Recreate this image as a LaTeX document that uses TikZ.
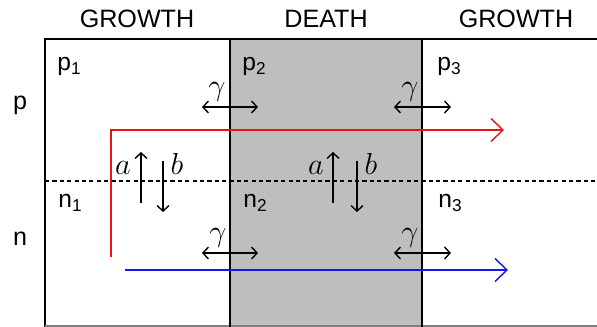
\documentclass[tikz,border=0pt]{standalone}
\usepackage{fontspec}
\setmainfont{Liberation Sans}
\usepackage{tikz}
\usetikzlibrary{arrows.meta,positioning}
\definecolor{death_gray}{RGB}{190,190,190}
\definecolor{track_red}{RGB}{232,20,20}
\definecolor{track_blue}{RGB}{20,20,236}
\tikzset{
zone_title/.style={font=\fontsize{14.3}{16}\selectfont, anchor=base, inner sep=0pt},
row_name/.style={font=\fontsize{14.3}{16}\selectfont, anchor=base, inner sep=0pt},
cell_name/.style={font=\fontsize{14}{16}\selectfont, anchor=base west, inner sep=0pt},
rate/.style={font=\fontsize{18.5}{21}\selectfont, anchor=base, inner sep=0pt},
boundary/.style={line width=1.1pt},
swap_arrow/.style={{Straight Barb[length=1.1mm,width=2.4mm]}-{Straight Barb[length=1.1mm,width=2.4mm]}, line width=0.8pt},
flip_arrow/.style={-{Straight Barb[length=1.1mm,width=2.4mm]}, line width=0.8pt},
track/.style={-{Straight Barb[length=2.4mm,width=4.6mm]}, line width=0.8pt}
}

\begin{document}
\begin{tikzpicture}[x=0.02cm, y=-0.02cm]
    \useasboundingbox (0,0) rectangle (597,327);
    % death zone
    \fill[death_gray] (230,39) rectangle (422,327);
    % frame
    \coordinate (frame_tl) at (45,39);
    \coordinate (frame_tr) at (597,39);
    \coordinate (frame_bl) at (45,327);
    \draw[boundary] (frame_bl) -- (frame_tl) -- (frame_tr);
    \draw[gray, line width=0.8pt] (45,326) -- (597,326);
    \draw[boundary] (230,39) -- (230,327);
    \draw[boundary] (422,39) -- (422,327);
    \draw[line width=0.6pt, dash pattern=on 2.4pt off 1.8pt] (45,181) -- (597,181);

    \node[zone_title] (title_1) at (137,28) {GROWTH};
    \node[zone_title] (title_2) at (326,28) {DEATH};
    \node[zone_title] (title_3) at (516,28) {GROWTH};

    \node[row_name] (row_p) at (20,110) {p};
    \node[row_name] (row_n) at (20,245) {n};

    \node[cell_name] (p_1) at (57,71) {p\textsubscript{1}};
    \node[cell_name] (p_2) at (242,71) {p\textsubscript{2}};
    \node[cell_name] (p_3) at (437,71) {p\textsubscript{3}};
    \node[cell_name] (n_1) at (58,208) {n\textsubscript{1}};
    \node[cell_name] (n_2) at (243,208) {n\textsubscript{2}};
    \node[cell_name] (n_3) at (438,208) {n\textsubscript{3}};

    % migration between zones
    \coordinate (gp_1l) at (202,107); \coordinate (gp_1r) at (258,107);
    \coordinate (gp_2l) at (394,107); \coordinate (gp_2r) at (451,107);
    \coordinate (gn_1l) at (202,253); \coordinate (gn_1r) at (258,253);
    \coordinate (gn_2l) at (394,253); \coordinate (gn_2r) at (451,253);
    \draw[swap_arrow] (gp_1l) -- (gp_1r);
    \draw[swap_arrow] (gp_2l) -- (gp_2r);
    \draw[swap_arrow] (gn_1l) -- (gn_1r);
    \draw[swap_arrow] (gn_2l) -- (gn_2r);
    \node[rate] (gamma_p1) at (217,96) {$\gamma$};
    \node[rate] (gamma_p2) at (410,96) {$\gamma$};
    \node[rate] (gamma_n1) at (218,241) {$\gamma$};
    \node[rate] (gamma_n2) at (410,241) {$\gamma$};

    % switching between states
    \coordinate (up_1a) at (141,203); \coordinate (up_1b) at (141,152);
    \coordinate (dn_1a) at (163,161); \coordinate (dn_1b) at (163,212);
    \coordinate (up_2a) at (333,203); \coordinate (up_2b) at (333,152);
    \coordinate (dn_2a) at (357,161); \coordinate (dn_2b) at (357,212);
    \draw[flip_arrow] (up_1a) -- (up_1b);
    \draw[flip_arrow] (dn_1a) -- (dn_1b);
    \draw[flip_arrow] (up_2a) -- (up_2b);
    \draw[flip_arrow] (dn_2a) -- (dn_2b);
    \node[rate] (a_1) at (123,175) {$a$};
    \node[rate] (b_1) at (177,175) {$b$};
    \node[rate] (a_2) at (316,175) {$a$};
    \node[rate] (b_2) at (371,175) {$b$};

    % tracks
    \coordinate (red_start) at (111,257);
    \coordinate (red_corner) at (111,130);
    \coordinate (red_end) at (504,130);
    \coordinate (blue_start) at (125,270);
    \coordinate (blue_end) at (508,270);
    \draw[track, track_red] (red_start) -- (red_corner) -- (red_end);
    \draw[track, track_blue] (blue_start) -- (blue_end);
\end{tikzpicture}
\end{document}
